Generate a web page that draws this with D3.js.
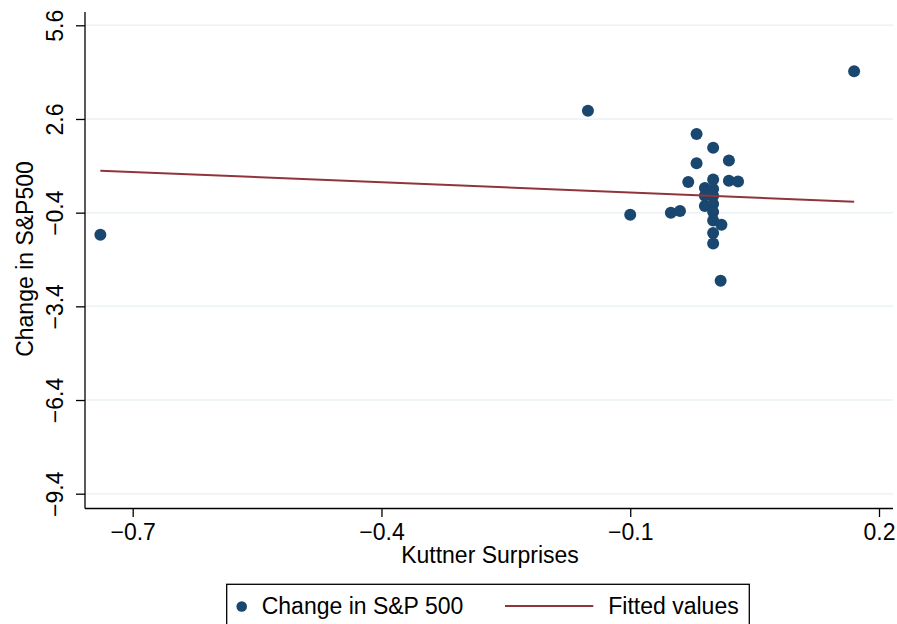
<!DOCTYPE html>
<html>
<head>
<meta charset="utf-8">
<script src="https://cdn.jsdelivr.net/npm/d3@7"></script>
<style>
  html, body { margin: 0; padding: 0; background: #fff; }
  svg { display: block; font-family: "Liberation Sans", Arial, sans-serif; }
</style>
</head>
<body>
<svg id="chart" width="897" height="624"></svg>
<script>
// ---- data ----
const surpriseX = [-0.739, -0.151, 0.170, -0.100, -0.051, -0.040, -0.030, -0.020, -0.020,
  -0.010, -0.010, -0.010, 0.000, 0.000, 0.000, 0.000, 0.000, 0.000, 0.000, 0.000, 0.000,
  0.010, 0.009, 0.019, 0.019, 0.030];
const spChange = [-1.11, 2.86, 4.13, -0.47, -0.40, -0.35, 0.58, 2.12, 1.18,
  0.39, 0.14, -0.19, 1.68, 0.66, 0.36, 0.14, -0.12, -0.38, -0.65, -1.05, -1.39,
  -0.79, -2.58, 1.27, 0.62, 0.60];
const fittedX = [-0.739, 0.170];
const fittedY = [0.945, -0.048];
const xTicks = [-0.7, -0.4, -0.1, 0.2];
const yTicks = [-9.4, -6.4, -3.4, -0.4, 2.6, 5.6];
const xTitle = "Kuttner Surprises";
const yTitle = "Change in S&P500";
const legendLabels = ["Change in S&P 500", "Fitted values"];

const navy = "#1a476f", maroon = "#90353b", gridColor = "#eaf2f3";
const fs = 23;

const svg = d3.select("#chart");
const pL = 85, pR = 893, pT = 12, pB = 508.5;

const x = d3.scaleLinear().domain([-0.7, 0.2]).range([132.7, 879]);
const y = d3.scaleLinear().domain([-9.4, 5.6]).range([493.7, 25.3]);
const fmt = d => d3.format(".1f")(d).replace("-", "\u2212");

// gridlines
svg.append("g").selectAll("line").data(yTicks).join("line")
  .attr("x1", pL).attr("x2", pR)
  .attr("y1", d => y(d)).attr("y2", d => y(d))
  .attr("stroke", gridColor).attr("stroke-width", 1.5);

// y axis
const yAxis = svg.append("g").attr("transform", `translate(${pL},0)`)
  .call(d3.axisLeft(y).tickValues(yTicks).tickSize(9).tickFormat(fmt));
yAxis.select(".domain").remove();
yAxis.selectAll(".tick line").attr("stroke", "#000").attr("stroke-width", 1.3);
yAxis.selectAll(".tick text")
  .attr("font-size", fs).attr("font-family", "Liberation Sans, Arial, sans-serif")
  .attr("fill", "#000")
  .attr("text-anchor", "middle")
  .attr("transform", "rotate(-90)")
  .attr("x", 0).attr("y", -22).attr("dy", 0);

// x axis
const xAxis = svg.append("g").attr("transform", `translate(0,${pB})`)
  .call(d3.axisBottom(x).tickValues(xTicks).tickSize(8.5).tickFormat(fmt));
xAxis.select(".domain").remove();
xAxis.selectAll(".tick line").attr("stroke", "#000").attr("stroke-width", 1.3);
xAxis.selectAll(".tick text")
  .attr("font-size", fs).attr("font-family", "Liberation Sans, Arial, sans-serif")
  .attr("fill", "#000").attr("y", 31).attr("dy", 0);

// axis lines
svg.append("line").attr("x1", pL).attr("x2", pL).attr("y1", pT).attr("y2", pB)
  .attr("stroke", "#000").attr("stroke-width", 1.3);
svg.append("line").attr("x1", pL).attr("x2", pR).attr("y1", pB).attr("y2", pB)
  .attr("stroke", "#000").attr("stroke-width", 1.3);

// axis titles
svg.append("text").attr("x", 490).attr("y", 563.3)
  .attr("text-anchor", "middle").attr("font-size", fs).text(xTitle);
svg.append("text").attr("transform", `translate(33,259) rotate(-90)`)
  .attr("text-anchor", "middle").attr("font-size", fs).text(yTitle);

// points
const pts = surpriseX.map((v, i) => ({ x: v, y: spChange[i] }));
svg.append("g").selectAll("circle").data(pts).join("circle")
  .attr("cx", d => x(d.x)).attr("cy", d => y(d.y)).attr("r", 6)
  .attr("fill", navy);

// fitted line
svg.append("path")
  .datum(fittedX.map((v, i) => [v, fittedY[i]]))
  .attr("d", d3.line().x(d => x(d[0])).y(d => y(d[1])))
  .attr("fill", "none").attr("stroke", maroon).attr("stroke-width", 2);

// legend
const lg = svg.append("g");
lg.append("rect").attr("x", 226.7).attr("y", 584.3).attr("width", 522.6).attr("height", 60)
  .attr("fill", "#fff").attr("stroke", "#000").attr("stroke-width", 1.3);
lg.append("circle").attr("cx", 241.7).attr("cy", 606.5).attr("r", 5.3).attr("fill", navy);
lg.append("text").attr("x", 261.7).attr("y", 614).attr("font-size", fs).text(legendLabels[0]);
lg.append("line").attr("x1", 505).attr("x2", 593.3).attr("y1", 606).attr("y2", 606)
  .attr("stroke", maroon).attr("stroke-width", 2);
lg.append("text").attr("x", 608.3).attr("y", 614).attr("font-size", fs).text(legendLabels[1]);
</script>
</body>
</html>
